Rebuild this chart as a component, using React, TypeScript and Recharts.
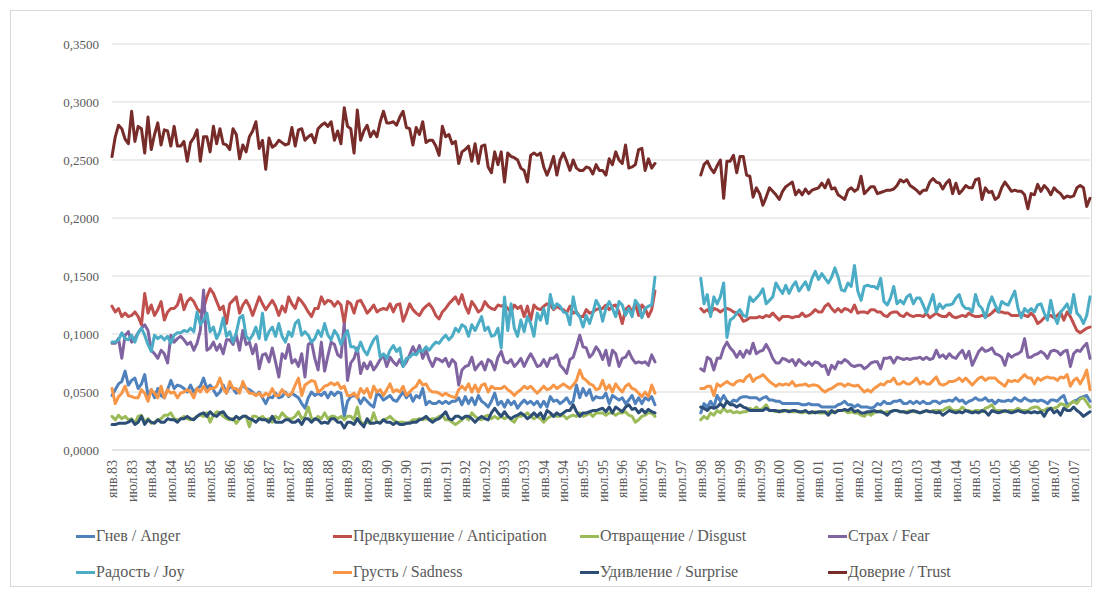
import React from "react";
import { LineChart, Line, XAxis, YAxis, CartesianGrid } from "recharts";

// Monthly categories: Jan 1983 .. Dec 2007 (300 months); data gap Dec 1996 .. Dec 1997
const MONTH_NAMES = ["янв", "фев", "мар", "апр", "май", "июн", "июл", "авг", "сен", "окт", "ноя", "дек"];
const START_YEAR = 1983;
const MONTH_COUNT = 300;
const SEG_B_START = 180; // Jan 1998

const yTicks = [0, 0.05, 0.1, 0.15, 0.2, 0.25, 0.3, 0.35];

// Segment A: Jan 1983 .. Nov 1996 ; Segment B: Jan 1998 .. Dec 2007
const angerA = [
  0.047, 0.052, 0.057, 0.059, 0.068, 0.056, 0.060, 0.062, 0.053, 0.057, 0.065, 0.047, 0.052, 0.045, 0.053, 0.047, 0.045, 0.052, 0.060, 0.053,
  0.056, 0.055, 0.053, 0.050, 0.056, 0.050, 0.053, 0.055, 0.062, 0.053, 0.056, 0.052, 0.047, 0.050, 0.056, 0.049, 0.055, 0.053, 0.049, 0.052,
  0.056, 0.053, 0.052, 0.050, 0.047, 0.050, 0.045, 0.040, 0.046, 0.045, 0.049, 0.045, 0.046, 0.050, 0.046, 0.049, 0.047, 0.045, 0.040, 0.036,
  0.045, 0.050, 0.047, 0.049, 0.047, 0.050, 0.045, 0.050, 0.047, 0.050, 0.049, 0.029, 0.042, 0.046,
  0.047, 0.046, 0.040, 0.045, 0.042, 0.039, 0.037, 0.049, 0.047, 0.043, 0.045, 0.047, 0.043, 0.042, 0.046, 0.050, 0.045, 0.049, 0.042, 0.047,
  0.045, 0.053, 0.039, 0.042, 0.040, 0.040, 0.042, 0.040, 0.042, 0.040, 0.042, 0.042, 0.045, 0.039, 0.046, 0.040, 0.045, 0.039, 0.047, 0.042,
  0.040, 0.037, 0.042, 0.049, 0.039, 0.042, 0.037, 0.043, 0.039, 0.042, 0.036, 0.040, 0.043, 0.040, 0.042, 0.039, 0.042, 0.037, 0.042, 0.037,
  0.046, 0.042, 0.043, 0.040, 0.042, 0.045, 0.040, 0.042, 0.056, 0.045, 0.053, 0.047, 0.052, 0.043, 0.046, 0.045,
  0.045, 0.049, 0.040, 0.047, 0.045, 0.043, 0.045, 0.040, 0.043, 0.047, 0.040, 0.045, 0.040, 0.045, 0.043, 0.046, 0.039,
];
const angerB = [
  0.032, 0.040, 0.037, 0.042, 0.037, 0.047, 0.042, 0.047, 0.042, 0.040, 0.043, 0.042, 0.045, 0.046, 0.046, 0.045, 0.045, 0.045, 0.043, 0.045,
  0.046, 0.043, 0.043, 0.042, 0.042, 0.040, 0.040, 0.040, 0.040, 0.040, 0.040, 0.039, 0.039, 0.040, 0.039, 0.039, 0.039, 0.037, 0.037, 0.037,
  0.037, 0.037, 0.039, 0.040,
  0.042, 0.039, 0.039, 0.037, 0.039, 0.037, 0.037, 0.037, 0.036, 0.037, 0.040, 0.039, 0.042, 0.040, 0.040, 0.042, 0.042, 0.043, 0.040, 0.040,
  0.042, 0.040, 0.042, 0.040, 0.042, 0.040, 0.040, 0.042, 0.042, 0.040, 0.042, 0.042, 0.043, 0.042, 0.045, 0.042, 0.043, 0.040, 0.042, 0.043,
  0.045, 0.043, 0.043, 0.045, 0.042, 0.043, 0.040, 0.043, 0.042, 0.042, 0.043, 0.042, 0.045, 0.043, 0.042, 0.045, 0.043, 0.042, 0.043, 0.042,
  0.043, 0.042, 0.040, 0.043, 0.043, 0.042, 0.045, 0.047, 0.039, 0.040, 0.042, 0.043, 0.045, 0.046, 0.047, 0.042,
];

const anticipationA = [
  0.124, 0.119, 0.122, 0.115, 0.118, 0.115, 0.116, 0.119, 0.115, 0.108, 0.135, 0.118, 0.125, 0.116, 0.121, 0.128, 0.112, 0.119, 0.122, 0.122,
  0.125, 0.134, 0.121, 0.128, 0.131, 0.128, 0.122, 0.119, 0.122, 0.132, 0.139, 0.135, 0.128, 0.121, 0.124, 0.109, 0.126, 0.129, 0.132, 0.118,
  0.125, 0.129, 0.124, 0.116, 0.124, 0.132, 0.126, 0.121, 0.125, 0.129, 0.124, 0.116, 0.124, 0.119, 0.132, 0.126, 0.122, 0.131, 0.128, 0.124,
  0.119, 0.115, 0.122, 0.122, 0.132, 0.126, 0.129, 0.128, 0.124, 0.128, 0.125, 0.109, 0.128, 0.126,
  0.118, 0.128, 0.129, 0.124, 0.118, 0.121, 0.125, 0.119, 0.121, 0.122, 0.121, 0.126, 0.119, 0.125, 0.126, 0.111, 0.118, 0.126, 0.121, 0.118,
  0.116, 0.121, 0.124, 0.126, 0.122, 0.116, 0.113, 0.119, 0.122, 0.126, 0.129, 0.132, 0.126, 0.134, 0.124, 0.118, 0.128, 0.124, 0.119, 0.121,
  0.128, 0.124, 0.122, 0.121, 0.125, 0.124, 0.125, 0.122, 0.119, 0.125, 0.122, 0.124, 0.115, 0.124, 0.112, 0.125, 0.122, 0.121, 0.124, 0.126,
  0.125, 0.121, 0.124, 0.122, 0.121, 0.118, 0.124, 0.118, 0.119, 0.115, 0.115, 0.121, 0.118, 0.119, 0.121, 0.122,
  0.122, 0.125, 0.121, 0.124, 0.125, 0.119, 0.109, 0.121, 0.124, 0.119, 0.126, 0.116, 0.125, 0.122, 0.115, 0.121, 0.137,
];
const anticipationB = [
  0.122, 0.119, 0.121, 0.118, 0.122, 0.121, 0.119, 0.121, 0.122, 0.121, 0.119, 0.118, 0.116, 0.111, 0.112, 0.114, 0.114, 0.114, 0.115, 0.114,
  0.116, 0.115, 0.118, 0.115, 0.112, 0.115, 0.115, 0.115, 0.114, 0.115, 0.115, 0.118, 0.115, 0.116, 0.118, 0.121, 0.119, 0.119, 0.124, 0.126,
  0.122, 0.119, 0.122, 0.119,
  0.122, 0.121, 0.119, 0.125, 0.118, 0.119, 0.119, 0.118, 0.121, 0.121, 0.119, 0.119, 0.116, 0.115, 0.118, 0.119, 0.119, 0.116, 0.115, 0.118,
  0.116, 0.115, 0.116, 0.116, 0.115, 0.118, 0.114, 0.116, 0.118, 0.116, 0.115, 0.115, 0.118, 0.115, 0.114, 0.115, 0.116, 0.115, 0.118, 0.116,
  0.115, 0.115, 0.116, 0.115, 0.116, 0.118, 0.121, 0.119, 0.119, 0.118, 0.118, 0.116, 0.116, 0.116, 0.118, 0.116, 0.115, 0.118, 0.115, 0.109,
  0.111, 0.114, 0.115, 0.116, 0.114, 0.116, 0.119, 0.112, 0.119, 0.115, 0.109, 0.103, 0.101, 0.103, 0.105, 0.106,
];

const disgustA = [
  0.029, 0.026, 0.030, 0.027, 0.029, 0.026, 0.027, 0.023, 0.029, 0.030, 0.024, 0.027, 0.023, 0.024, 0.026, 0.027, 0.030, 0.030, 0.032, 0.027,
  0.026, 0.027, 0.029, 0.027, 0.026, 0.027, 0.029, 0.030, 0.029, 0.032, 0.024, 0.030, 0.033, 0.032, 0.029, 0.027, 0.026, 0.027, 0.023, 0.027,
  0.029, 0.029, 0.020, 0.029, 0.029, 0.027, 0.029, 0.026, 0.027, 0.024, 0.029, 0.027, 0.032, 0.029, 0.027, 0.027, 0.029, 0.033, 0.027, 0.029,
  0.037, 0.027, 0.026, 0.029, 0.027, 0.032, 0.027, 0.029, 0.029, 0.027, 0.029, 0.026, 0.029, 0.029,
  0.026, 0.037, 0.024, 0.023, 0.024, 0.023, 0.032, 0.024, 0.024, 0.026, 0.027, 0.029, 0.026, 0.024, 0.024, 0.024, 0.023, 0.024, 0.026, 0.026,
  0.027, 0.026, 0.027, 0.026, 0.027, 0.027, 0.029, 0.030, 0.026, 0.026, 0.024, 0.022, 0.024, 0.026, 0.029, 0.026, 0.032, 0.029, 0.027, 0.026,
  0.029, 0.030, 0.027, 0.029, 0.027, 0.029, 0.027, 0.029, 0.026, 0.024, 0.029, 0.029, 0.030, 0.032, 0.029, 0.027, 0.029, 0.027, 0.024, 0.027,
  0.029, 0.030, 0.029, 0.029, 0.030, 0.027, 0.029, 0.030, 0.029, 0.032, 0.029, 0.030, 0.032, 0.029, 0.032, 0.032,
  0.032, 0.030, 0.032, 0.032, 0.030, 0.032, 0.032, 0.033, 0.030, 0.029, 0.024, 0.026, 0.029, 0.030, 0.032, 0.032, 0.029,
];
const disgustB = [
  0.026, 0.029, 0.027, 0.032, 0.030, 0.034, 0.032, 0.036, 0.033, 0.034, 0.032, 0.033, 0.032, 0.033, 0.033, 0.036, 0.034, 0.037, 0.034, 0.036,
  0.039, 0.034, 0.034, 0.033, 0.034, 0.033, 0.034, 0.034, 0.033, 0.033, 0.033, 0.032, 0.033, 0.032, 0.032, 0.033, 0.032, 0.032, 0.032, 0.033,
  0.032, 0.033, 0.034, 0.034,
  0.034, 0.032, 0.033, 0.032, 0.032, 0.030, 0.029, 0.032, 0.030, 0.032, 0.033, 0.034, 0.032, 0.033, 0.033, 0.034, 0.034, 0.033, 0.033, 0.033,
  0.034, 0.033, 0.033, 0.032, 0.033, 0.034, 0.033, 0.034, 0.034, 0.034, 0.034, 0.036, 0.037, 0.034, 0.034, 0.034, 0.037, 0.034, 0.034, 0.033,
  0.034, 0.034, 0.033, 0.036, 0.037, 0.039, 0.034, 0.034, 0.034, 0.033, 0.034, 0.034, 0.034, 0.036, 0.034, 0.034, 0.034, 0.036, 0.037, 0.037,
  0.034, 0.034, 0.036, 0.036, 0.036, 0.037, 0.040, 0.039, 0.037, 0.040, 0.042, 0.040, 0.044, 0.045, 0.041, 0.037,
];

const fearA = [
  0.092, 0.092, 0.096, 0.079, 0.099, 0.102, 0.093, 0.096, 0.101, 0.105, 0.108, 0.103, 0.086, 0.083, 0.079, 0.086, 0.083, 0.075, 0.099, 0.093,
  0.096, 0.098, 0.095, 0.091, 0.093, 0.086, 0.092, 0.103, 0.138, 0.086, 0.088, 0.093, 0.086, 0.091, 0.083, 0.095, 0.095, 0.091, 0.099, 0.086,
  0.103, 0.091, 0.093, 0.083, 0.091, 0.070, 0.082, 0.083, 0.076, 0.088, 0.076, 0.063, 0.083, 0.079, 0.091, 0.075, 0.078, 0.072, 0.083, 0.063,
  0.091, 0.093, 0.079, 0.069, 0.093, 0.068, 0.081, 0.093, 0.091, 0.082, 0.080, 0.109, 0.060, 0.075,
  0.079, 0.088, 0.066, 0.075, 0.070, 0.076, 0.069, 0.073, 0.078, 0.082, 0.072, 0.080, 0.076, 0.073, 0.078, 0.072, 0.076, 0.082, 0.089, 0.083,
  0.090, 0.079, 0.086, 0.078, 0.072, 0.079, 0.078, 0.076, 0.079, 0.072, 0.078, 0.075, 0.056, 0.069, 0.072, 0.073, 0.080, 0.069, 0.073, 0.076,
  0.069, 0.078, 0.076, 0.069, 0.080, 0.085, 0.076, 0.075, 0.078, 0.072, 0.075, 0.079, 0.072, 0.078, 0.083, 0.078, 0.072, 0.073, 0.078, 0.072,
  0.079, 0.079, 0.082, 0.073, 0.070, 0.066, 0.078, 0.080, 0.089, 0.099, 0.089, 0.088, 0.080, 0.083, 0.089, 0.085,
  0.078, 0.086, 0.073, 0.086, 0.083, 0.072, 0.079, 0.080, 0.085, 0.079, 0.075, 0.076, 0.075, 0.076, 0.073, 0.082, 0.076,
];
const fearB = [
  0.070, 0.068, 0.080, 0.078, 0.069, 0.079, 0.079, 0.088, 0.093, 0.088, 0.085, 0.080, 0.085, 0.080, 0.086, 0.083, 0.092, 0.083, 0.085, 0.086,
  0.091, 0.086, 0.079, 0.075, 0.075, 0.079, 0.078, 0.076, 0.078, 0.073, 0.078, 0.075, 0.073, 0.076, 0.073, 0.076, 0.075, 0.072, 0.073, 0.065,
  0.073, 0.070, 0.076, 0.075,
  0.078, 0.076, 0.073, 0.072, 0.073, 0.073, 0.070, 0.072, 0.075, 0.076, 0.076, 0.070, 0.079, 0.079, 0.080, 0.075, 0.080, 0.079, 0.078, 0.079,
  0.078, 0.079, 0.079, 0.080, 0.078, 0.080, 0.078, 0.079, 0.086, 0.080, 0.082, 0.079, 0.083, 0.080, 0.079, 0.083, 0.086, 0.079, 0.085, 0.073,
  0.079, 0.085, 0.088, 0.085, 0.086, 0.088, 0.083, 0.082, 0.080, 0.073, 0.083, 0.080, 0.082, 0.083, 0.085, 0.096, 0.080, 0.080, 0.082, 0.083,
  0.085, 0.083, 0.079, 0.085, 0.086, 0.085, 0.082, 0.085, 0.086, 0.072, 0.083, 0.086, 0.085, 0.089, 0.092, 0.079,
];

const joyA = [
  0.093, 0.093, 0.095, 0.101, 0.096, 0.095, 0.099, 0.093, 0.101, 0.105, 0.099, 0.091, 0.085, 0.099, 0.096, 0.098, 0.095, 0.098, 0.092, 0.099,
  0.101, 0.101, 0.103, 0.102, 0.105, 0.102, 0.119, 0.108, 0.112, 0.118, 0.102, 0.106, 0.096, 0.102, 0.114, 0.098, 0.102, 0.093, 0.101, 0.114,
  0.116, 0.098, 0.095, 0.099, 0.106, 0.096, 0.118, 0.095, 0.102, 0.106, 0.098, 0.109, 0.098, 0.093, 0.102, 0.098, 0.109, 0.112, 0.099, 0.102,
  0.099, 0.093, 0.096, 0.103, 0.098, 0.109, 0.099, 0.095, 0.103, 0.099, 0.091, 0.098, 0.103, 0.089,
  0.089, 0.085, 0.093, 0.086, 0.082, 0.089, 0.095, 0.098, 0.080, 0.083, 0.079, 0.086, 0.090, 0.085, 0.088, 0.072, 0.079, 0.080, 0.083, 0.082,
  0.086, 0.085, 0.089, 0.086, 0.090, 0.093, 0.092, 0.096, 0.099, 0.095, 0.098, 0.105, 0.102, 0.108, 0.106, 0.098, 0.108, 0.103, 0.109, 0.115,
  0.103, 0.106, 0.098, 0.099, 0.105, 0.088, 0.132, 0.103, 0.126, 0.105, 0.098, 0.112, 0.102, 0.115, 0.109, 0.098, 0.118, 0.112, 0.122, 0.109,
  0.134, 0.122, 0.126, 0.124, 0.119, 0.118, 0.108, 0.132, 0.118, 0.115, 0.106, 0.116, 0.109, 0.118, 0.129, 0.124,
  0.111, 0.122, 0.128, 0.122, 0.115, 0.128, 0.125, 0.116, 0.122, 0.115, 0.129, 0.125, 0.114, 0.122, 0.124, 0.125, 0.149,
];
const joyB = [
  0.148, 0.126, 0.134, 0.115, 0.132, 0.126, 0.132, 0.144, 0.097, 0.112, 0.114, 0.118, 0.121, 0.116, 0.115, 0.132, 0.128, 0.131, 0.134, 0.139,
  0.126, 0.129, 0.132, 0.144, 0.139, 0.135, 0.142, 0.135, 0.141, 0.145, 0.137, 0.141, 0.145, 0.138, 0.148, 0.154, 0.147, 0.152, 0.148, 0.144,
  0.149, 0.157, 0.149, 0.138,
  0.137, 0.144, 0.141, 0.159, 0.137, 0.129, 0.141, 0.142, 0.141, 0.141, 0.139, 0.148, 0.128, 0.125, 0.131, 0.141, 0.126, 0.129, 0.126, 0.132,
  0.134, 0.126, 0.131, 0.131, 0.125, 0.118, 0.126, 0.134, 0.119, 0.126, 0.122, 0.125, 0.125, 0.126, 0.131, 0.134, 0.125, 0.122, 0.122, 0.119,
  0.134, 0.125, 0.122, 0.114, 0.125, 0.132, 0.125, 0.119, 0.128, 0.126, 0.125, 0.131, 0.137, 0.122, 0.114, 0.122, 0.119, 0.122, 0.119, 0.125,
  0.126, 0.118, 0.112, 0.129, 0.116, 0.109, 0.119, 0.122, 0.126, 0.118, 0.134, 0.118, 0.115, 0.109, 0.116, 0.132,
];

const sadnessA = [
  0.053, 0.040, 0.046, 0.049, 0.055, 0.047, 0.046, 0.045, 0.045, 0.052, 0.049, 0.042, 0.052, 0.049, 0.045, 0.055, 0.045, 0.052, 0.049, 0.050,
  0.045, 0.049, 0.050, 0.052, 0.050, 0.045, 0.053, 0.050, 0.055, 0.050, 0.053, 0.053, 0.055, 0.062, 0.053, 0.049, 0.059, 0.053, 0.053, 0.049,
  0.059, 0.053, 0.049, 0.049, 0.047, 0.049, 0.046, 0.049, 0.047, 0.053, 0.047, 0.047, 0.052, 0.049, 0.047, 0.049, 0.056, 0.062, 0.047, 0.056,
  0.058, 0.060, 0.059, 0.050, 0.052, 0.055, 0.056, 0.058, 0.056, 0.058, 0.053, 0.055, 0.047, 0.047,
  0.049, 0.045, 0.053, 0.049, 0.053, 0.045, 0.055, 0.050, 0.052, 0.047, 0.052, 0.057, 0.050, 0.052, 0.050, 0.055, 0.047, 0.050, 0.053, 0.055,
  0.060, 0.056, 0.057, 0.052, 0.050, 0.050, 0.049, 0.047, 0.049, 0.047, 0.046, 0.045, 0.052, 0.055, 0.052, 0.057, 0.050, 0.056, 0.050, 0.056,
  0.057, 0.050, 0.055, 0.053, 0.053, 0.053, 0.055, 0.052, 0.050, 0.047, 0.050, 0.052, 0.055, 0.053, 0.055, 0.052, 0.049, 0.052, 0.055, 0.052,
  0.053, 0.056, 0.053, 0.055, 0.057, 0.055, 0.053, 0.056, 0.060, 0.069, 0.062, 0.060, 0.057, 0.056, 0.052, 0.053,
  0.060, 0.052, 0.056, 0.050, 0.057, 0.053, 0.050, 0.055, 0.057, 0.053, 0.052, 0.049, 0.046, 0.050, 0.046, 0.056, 0.049,
];
const sadnessB = [
  0.053, 0.053, 0.055, 0.055, 0.047, 0.057, 0.055, 0.057, 0.059, 0.057, 0.056, 0.059, 0.060, 0.059, 0.063, 0.065, 0.059, 0.062, 0.063, 0.065,
  0.062, 0.059, 0.057, 0.055, 0.057, 0.056, 0.057, 0.056, 0.059, 0.055, 0.056, 0.056, 0.057, 0.055, 0.056, 0.056, 0.055, 0.052, 0.050, 0.052,
  0.053, 0.055, 0.057, 0.057,
  0.055, 0.057, 0.056, 0.055, 0.056, 0.053, 0.050, 0.052, 0.050, 0.053, 0.055, 0.057, 0.056, 0.059, 0.059, 0.062, 0.057, 0.057, 0.059, 0.057,
  0.057, 0.059, 0.062, 0.057, 0.059, 0.057, 0.057, 0.060, 0.063, 0.057, 0.056, 0.057, 0.059, 0.059, 0.060, 0.062, 0.059, 0.062, 0.059, 0.056,
  0.059, 0.062, 0.063, 0.060, 0.062, 0.062, 0.062, 0.059, 0.057, 0.055, 0.060, 0.059, 0.060, 0.059, 0.062, 0.065, 0.062, 0.062, 0.057, 0.062,
  0.060, 0.062, 0.063, 0.062, 0.062, 0.060, 0.063, 0.062, 0.065, 0.055, 0.060, 0.062, 0.057, 0.062, 0.069, 0.052,
];

const surpriseA = [
  0.022, 0.022, 0.023, 0.023, 0.023, 0.024, 0.026, 0.022, 0.024, 0.029, 0.022, 0.026, 0.024, 0.023, 0.026, 0.024, 0.024, 0.027, 0.026, 0.026,
  0.024, 0.027, 0.027, 0.029, 0.027, 0.026, 0.029, 0.031, 0.032, 0.029, 0.033, 0.030, 0.029, 0.032, 0.033, 0.029, 0.027, 0.026, 0.029, 0.027,
  0.029, 0.029, 0.027, 0.026, 0.024, 0.027, 0.026, 0.026, 0.024, 0.029, 0.024, 0.024, 0.024, 0.026, 0.026, 0.024, 0.024, 0.026, 0.022, 0.027,
  0.027, 0.024, 0.027, 0.026, 0.023, 0.024, 0.023, 0.027, 0.027, 0.024, 0.024, 0.019, 0.024, 0.024,
  0.022, 0.027, 0.023, 0.020, 0.027, 0.023, 0.023, 0.024, 0.023, 0.026, 0.024, 0.024, 0.022, 0.024, 0.022, 0.022, 0.023, 0.023, 0.024, 0.024,
  0.026, 0.027, 0.029, 0.026, 0.024, 0.026, 0.027, 0.030, 0.033, 0.027, 0.026, 0.029, 0.029, 0.027, 0.029, 0.029, 0.027, 0.024, 0.027, 0.029,
  0.027, 0.026, 0.032, 0.036, 0.032, 0.029, 0.033, 0.029, 0.027, 0.029, 0.030, 0.032, 0.030, 0.027, 0.029, 0.032, 0.029, 0.032, 0.027, 0.034,
  0.032, 0.029, 0.032, 0.030, 0.032, 0.034, 0.034, 0.039, 0.033, 0.029, 0.032, 0.032, 0.033, 0.034, 0.034, 0.035,
  0.036, 0.033, 0.037, 0.032, 0.037, 0.035, 0.033, 0.037, 0.039, 0.035, 0.036, 0.032, 0.035, 0.032, 0.035, 0.033, 0.032,
];
const surpriseB = [
  0.037, 0.036, 0.034, 0.037, 0.036, 0.037, 0.040, 0.037, 0.042, 0.039, 0.039, 0.037, 0.039, 0.037, 0.036, 0.034, 0.034, 0.034, 0.034, 0.034,
  0.036, 0.034, 0.034, 0.034, 0.033, 0.034, 0.034, 0.033, 0.034, 0.034, 0.033, 0.033, 0.034, 0.032, 0.033, 0.032, 0.033, 0.033, 0.033, 0.030,
  0.034, 0.032, 0.034, 0.034,
  0.035, 0.034, 0.036, 0.033, 0.034, 0.032, 0.032, 0.033, 0.033, 0.034, 0.033, 0.033, 0.032, 0.030, 0.033, 0.034, 0.034, 0.033, 0.033, 0.032,
  0.033, 0.034, 0.033, 0.032, 0.033, 0.034, 0.033, 0.033, 0.032, 0.033, 0.030, 0.032, 0.034, 0.033, 0.032, 0.033, 0.032, 0.034, 0.033, 0.032,
  0.033, 0.032, 0.034, 0.033, 0.030, 0.034, 0.033, 0.032, 0.033, 0.034, 0.033, 0.032, 0.033, 0.034, 0.033, 0.032, 0.033, 0.032, 0.033, 0.032,
  0.033, 0.029, 0.034, 0.036, 0.032, 0.034, 0.030, 0.036, 0.034, 0.034, 0.037, 0.034, 0.032, 0.029, 0.031, 0.033,
];

const trustA = [
  0.253, 0.270, 0.280, 0.277, 0.268, 0.264, 0.292, 0.266, 0.279, 0.277, 0.256, 0.287, 0.259, 0.272, 0.282, 0.263, 0.276, 0.275, 0.262, 0.279,
  0.262, 0.262, 0.266, 0.249, 0.265, 0.269, 0.276, 0.249, 0.270, 0.270, 0.257, 0.279, 0.264, 0.277, 0.264, 0.263, 0.259, 0.277, 0.272, 0.251,
  0.263, 0.257, 0.270, 0.275, 0.283, 0.260, 0.267, 0.242, 0.269, 0.261, 0.263, 0.267, 0.265, 0.263, 0.264, 0.278, 0.262, 0.276, 0.277, 0.267,
  0.270, 0.272, 0.265, 0.277, 0.280, 0.282, 0.279, 0.283, 0.267, 0.275, 0.264, 0.295, 0.279, 0.277, 0.256, 0.293, 0.267, 0.275, 0.280, 0.270,
  0.275, 0.270, 0.283, 0.292, 0.282, 0.282, 0.283, 0.280, 0.287, 0.292, 0.278, 0.277, 0.263, 0.278, 0.272, 0.283, 0.265,
  0.267, 0.267, 0.262, 0.254, 0.279, 0.270, 0.272, 0.264, 0.266, 0.247, 0.257, 0.259, 0.262, 0.249, 0.264, 0.247, 0.262, 0.263, 0.244, 0.239,
  0.257, 0.246, 0.257, 0.231, 0.256, 0.253, 0.252, 0.250, 0.243, 0.241, 0.231, 0.254, 0.256, 0.254, 0.256, 0.244, 0.237, 0.244, 0.253, 0.237,
  0.250, 0.256, 0.249, 0.241, 0.250, 0.243, 0.241, 0.241, 0.244, 0.243, 0.238, 0.246, 0.241, 0.241, 0.237, 0.251, 0.246, 0.257, 0.250, 0.247,
  0.263, 0.243, 0.244, 0.246, 0.259, 0.260, 0.241, 0.251, 0.243, 0.247,
];
const trustB = [
  0.237, 0.246, 0.249, 0.243, 0.239, 0.245, 0.250, 0.217, 0.249, 0.249, 0.254, 0.239, 0.253, 0.253, 0.237, 0.236, 0.218, 0.226, 0.221, 0.211,
  0.218, 0.226, 0.223, 0.220, 0.216, 0.223, 0.227, 0.229, 0.231, 0.220, 0.224, 0.220, 0.225, 0.221, 0.224, 0.225, 0.226, 0.230, 0.226, 0.233,
  0.225, 0.226, 0.220, 0.218, 0.216, 0.224, 0.226, 0.223, 0.225, 0.236, 0.221, 0.224, 0.227, 0.227, 0.221, 0.222, 0.223, 0.224, 0.224, 0.225,
  0.228, 0.233, 0.231, 0.233, 0.228, 0.226, 0.224, 0.221, 0.224, 0.224, 0.231, 0.234, 0.231, 0.230, 0.225, 0.230, 0.233, 0.221, 0.230, 0.221,
  0.224, 0.228, 0.226, 0.226, 0.233, 0.234, 0.216, 0.226, 0.222, 0.223, 0.216, 0.218, 0.226, 0.231, 0.227, 0.223, 0.224, 0.223, 0.223, 0.220,
  0.208, 0.221, 0.220, 0.229, 0.223, 0.228, 0.225, 0.220, 0.226, 0.223, 0.221, 0.217, 0.219, 0.218, 0.219, 0.226, 0.228, 0.226, 0.210, 0.217,
];

const SERIES = [
  { key: "anger", name: "Гнев / Anger", color: "#4F81BD", a: angerA, b: angerB },
  { key: "anticipation", name: "Предвкушение / Anticipation", color: "#C0504D", a: anticipationA, b: anticipationB },
  { key: "disgust", name: "Отвращение / Disgust", color: "#9BBB59", a: disgustA, b: disgustB },
  { key: "fear", name: "Страх / Fear", color: "#8064A2", a: fearA, b: fearB },
  { key: "joy", name: "Радость / Joy", color: "#4BACC6", a: joyA, b: joyB },
  { key: "sadness", name: "Грусть / Sadness", color: "#F79646", a: sadnessA, b: sadnessB },
  { key: "surprise", name: "Удивление / Surprise", color: "#2C4D75", a: surpriseA, b: surpriseB },
  { key: "trust", name: "Доверие / Trust", color: "#772C2A", a: trustA, b: trustB },
];

const monthLabels: string[] = [];
for (let i = 0; i < MONTH_COUNT; i++) {
  const y = START_YEAR + Math.floor(i / 12);
  monthLabels.push(`${MONTH_NAMES[i % 12]}.${String(y % 100).padStart(2, "0")}`);
}
const xTicks: number[] = [];
for (let i = 0; i < MONTH_COUNT; i += 6) xTicks.push(i);

const data = monthLabels.map((label, i) => {
  const row: Record<string, number | string | null> = { t: i, label };
  SERIES.forEach((s) => {
    let v: number | null = null;
    if (i < s.a.length) v = s.a[i];
    else if (i >= SEG_B_START && i - SEG_B_START < s.b.length) v = s.b[i - SEG_B_START];
    row[s.key] = v;
  });
  return row;
});

const FONT = "'Liberation Serif', 'Times New Roman', serif";
const TEXT_COLOR = "#595959";

const XTick = (props: any) => {
  const { x, y, payload } = props;
  const ty = y + 2;
  return (
    <text
      x={x}
      y={ty}
      transform={`rotate(-90, ${x}, ${ty})`}
      textAnchor="end"
      dy="0.35em"
      fill={TEXT_COLOR}
      fontSize={14}
      fontFamily={FONT}
    >
      {monthLabels[payload.value]}
    </text>
  );
};

const LEGEND_X = [76, 333, 580, 828];
const LEGEND_Y = [536, 572];

const LegendBlock = () => (
  <div style={{ position: "absolute", left: 0, top: 0, width: 1096, height: 593, pointerEvents: "none" }}>
    {SERIES.map((s, i) => {
      const col = i % 4;
      const row = Math.floor(i / 4);
      return (
        <div
          key={s.key}
          style={{
            position: "absolute",
            left: LEGEND_X[col],
            top: LEGEND_Y[row] - 10,
            height: 20,
            display: "flex",
            alignItems: "center",
            whiteSpace: "nowrap",
            fontFamily: FONT,
            fontSize: 16,
            color: TEXT_COLOR,
          }}
        >
          <span style={{ display: "inline-block", width: 19, height: 3, background: s.color, marginRight: 1 }} />
          <span>{s.name}</span>
        </div>
      );
    })}
  </div>
);

export default function App() {
  return (
    <div style={{ position: "absolute", left: 0, top: 0, width: 1096, height: 593, background: "#fff" }}>
      <div
        style={{
          position: "absolute",
          left: 10,
          top: 10,
          width: 1082,
          height: 577,
          border: "1px solid #d9d9d9",
          boxSizing: "border-box",
        }}
      />
      <div style={{ position: "absolute", left: 0, top: 0 }}>
        <LineChart width={1096} height={593} data={data} margin={{ top: 44, right: 6, left: 52, bottom: 83 }}>
          <CartesianGrid vertical={false} stroke="#d9d9d9" strokeWidth={1} />
          <XAxis
            dataKey="t"
            type="number"
            domain={[0, MONTH_COUNT - 1]}
            ticks={xTicks}
            interval={0}
            tick={<XTick />}
            tickLine={false}
            axisLine={{ stroke: "#d9d9d9" }}
            height={60}
            allowDecimals={false}
          />
          <YAxis
            domain={[0, 0.35]}
            ticks={yTicks}
            width={60}
            tickLine={false}
            axisLine={false}
            tickSize={6}
            tickMargin={7}
            tickFormatter={(v: number) => v.toFixed(4).replace(".", ",")}
            tick={{ fill: TEXT_COLOR, fontSize: 13, fontFamily: FONT }}
          />
          {SERIES.map((s) => (
            <Line
              key={s.key}
              type="linear"
              dataKey={s.key}
              name={s.name}
              stroke={s.color}
              strokeWidth={3}
              dot={false}
              activeDot={false}
              connectNulls={false}
              isAnimationActive={false}
              strokeLinejoin="round"
              strokeLinecap="round"
            />
          ))}
        </LineChart>
      </div>
      <LegendBlock />
    </div>
  );
}
